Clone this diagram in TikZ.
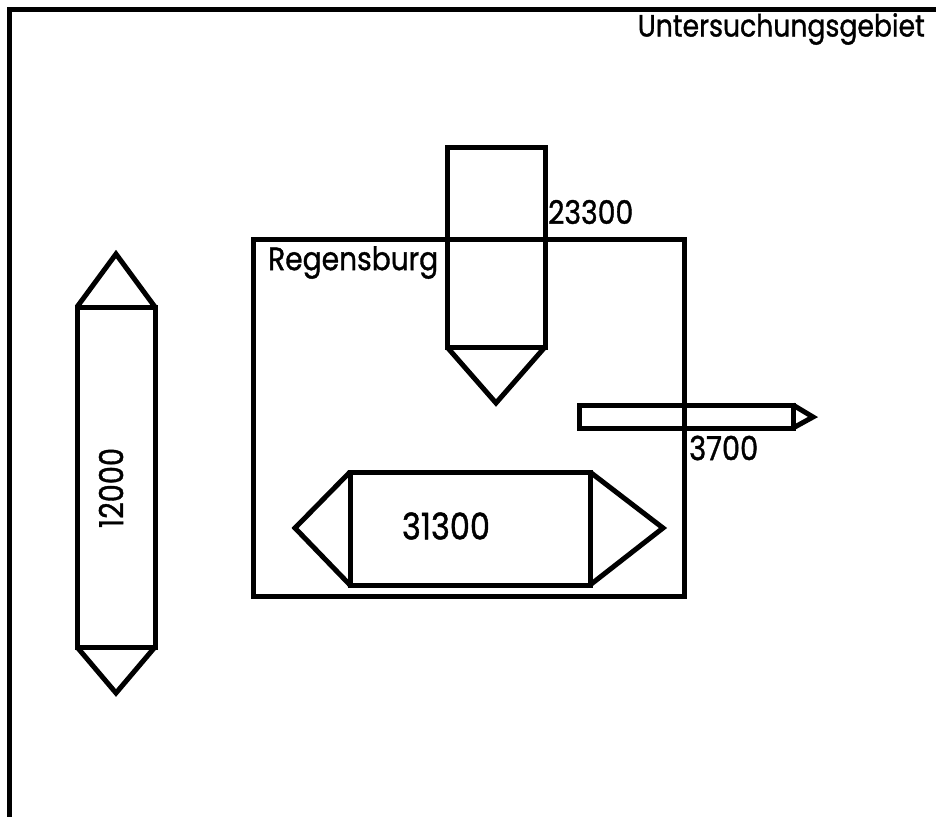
\documentclass[tikz,border=0pt]{standalone}
\usepackage{fontspec}
\setmainfont{Poppins}[FakeBold=1.2]
\usepackage{graphicx}
\newcommand{\fitw}[2]{\resizebox{#1pt}{!}{\scalebox{1}[1.15]{#2}}}
\begin{document}
\begin{tikzpicture}[x=1pt,y=-1pt,
  shape line/.style={line width=5pt, line join=miter},
  lbl/.style={inner sep=0pt, font=\fontsize{24}{28}\selectfont}]
\useasboundingbox (0,0) rectangle (936,816);
% study area frame (only top and left visible)
\draw[line width=5pt] (9,830) -- (9,9.5) -- (950,9.5);
\node[lbl, anchor=north east] (area) at (925,13) {\fitw{287}{Untersuchungsgebiet}};
% Regensburg box
\draw[shape line] (253,239) rectangle (684,596);
\node[lbl, anchor=north west] (rgb) at (268,246) {\fitw{170}{Regensburg}};
% 23300 arrow (pointing down)
\draw[shape line] (447,347) -- (447,147) -- (545,147) -- (545,347) -- cycle;
\draw[shape line] (447,347) -- (496,403) -- (545,347);
\node[lbl, anchor=west] (n23300) at (548,212) {\fitw{85}{23300}};
% 12000 double arrow (vertical)
\draw[shape line] (77,307) rectangle (155,647);
\draw[shape line] (77,307) -- (116,254) -- (155,307);
\draw[shape line] (77,647) -- (116,693) -- (155,647);
\node[lbl, rotate=90] (n12000) at (111,488) {\fitw{80}{12000}};
% 31300 double arrow (horizontal)
\draw[shape line] (350,472) rectangle (590,585);
\draw[shape line] (350,472) -- (295,528) -- (350,585);
\draw[shape line] (590,472) -- (663,528) -- (590,585);
\node[lbl] (n31300) at (446,526) {\fitw{88}{31300}};
% 3700 arrow (pointing right)
\draw[shape line] (579,405) rectangle (793,428);
\draw[shape line] (793,405) -- (813,417) -- (793,428);
\node[lbl, anchor=west] (n3700) at (689,448) {\fitw{69}{3700}};
\end{tikzpicture}
\end{document}
